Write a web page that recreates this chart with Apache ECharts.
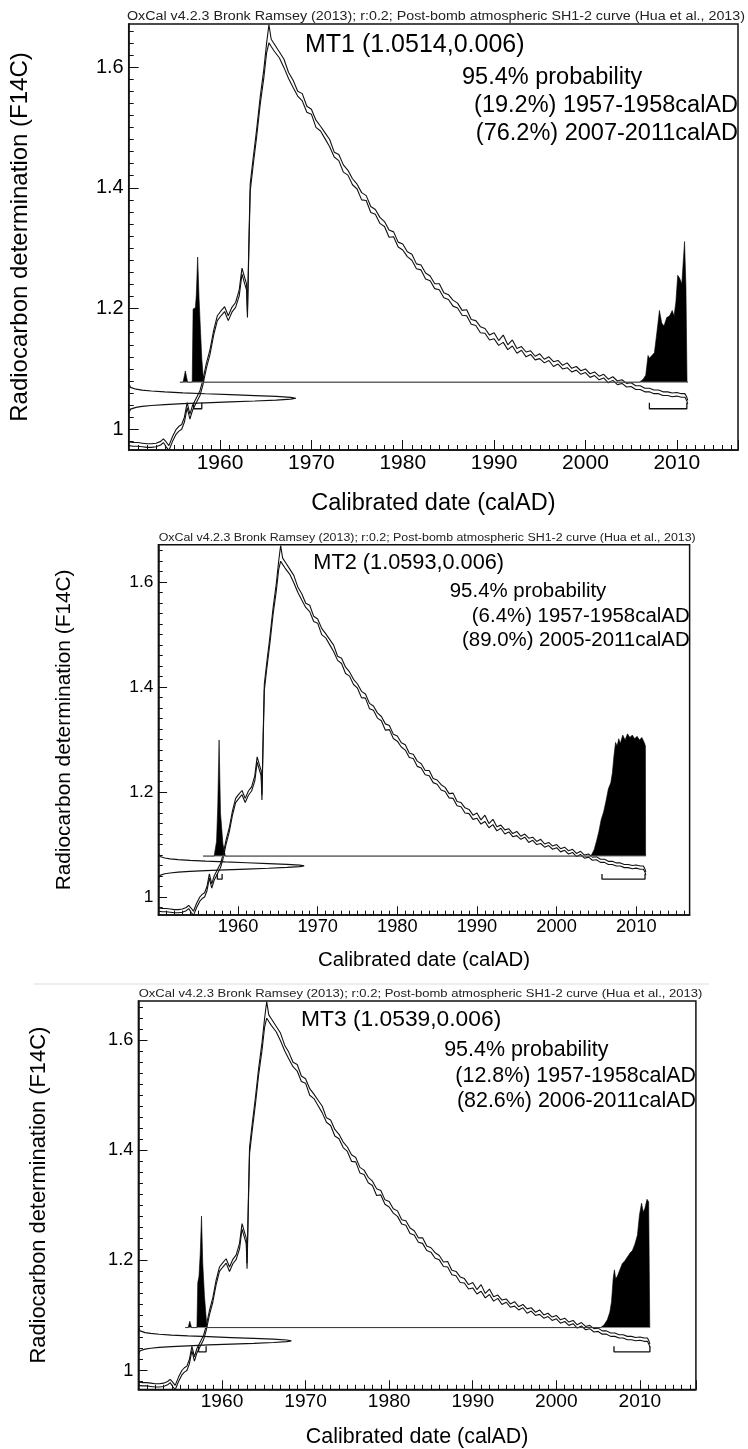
<!DOCTYPE html>
<html><head><meta charset="utf-8">
<script src="https://cdn.jsdelivr.net/npm/echarts@6/dist/echarts.min.js"></script>
<style>html,body{margin:0;padding:0;background:#fff}#c{width:748px;height:1449px}</style>
</head><body><div id="c"></div>
<script>
// ---------------- DATA ----------------
const headerText = 'OxCal v4.2.3 Bronk Ramsey (2013); r:0.2; Post-bomb atmospheric SH1-2 curve (Hua et al., 2013)';
const xTitle = 'Calibrated date (calAD)';
const yTitle = 'Radiocarbon determination (F14C)';
const xTicks = [1960, 1970, 1980, 1990, 2000, 2010];
const yTicks = [1, 1.2, 1.4, 1.6];
const yMinorTicks = [0.98,1.00,1.02,1.04,1.06,1.08,1.10,1.12,1.14,1.16,1.18,1.20,1.22,1.24,1.26,1.28,1.30,1.32,1.34,1.36,1.38,1.40,1.42,1.44,1.46,1.48,1.50,1.52,1.54,1.56,1.58,1.60,1.62,1.64,1.66];

// calibration curve SH1-2 (mean and 1 sigma, F14C)
const calYear = [1950.0,1950.5,1951.0,1951.5,1952.0,1952.5,1953.0,1953.5,1953.8,1954.1,1954.4,1954.8,1955.2,1955.5,1955.8,1956.1,1956.4,1956.7,1957.0,1957.4,1957.8,1958.1,1958.5,1958.9,1959.3,1959.7,1960.1,1960.5,1960.9,1961.3,1961.7,1962.1,1962.4,1962.7,1962.9,1963.0,1963.15,1963.3,1963.6,1964.0,1964.4,1964.8,1965.1,1965.35,1965.6,1965.9,
1966.0,1966.5,1967.0,1967.5,1968.0,1968.5,1969.0,1969.5,1970.0,1970.5,1971.0,1971.5,1972.0,1972.5,1973.0,1973.5,1974.0,1974.5,1975.0,1975.5,1976.0,1976.5,1977.0,1977.5,1978.0,1978.5,1979.0,1979.5,1980.0,1980.5,1981.0,1981.5,1982.0,1982.5,1983.0,1983.5,1984.0,1984.5,1985.0,1985.5,1986.0,1986.5,1987.0,1987.5,1988.0,1988.5,1989.0,1989.5,1990.0,1990.5,1991.0,1991.5,1992.0,1992.5,1993.0,1993.5,1994.0,1994.5,1995.0,1995.5,1996.0,1996.5,1997.0,1997.5,1998.0,1998.5,1999.0,1999.5,2000.0,2000.5,2001.0,2001.5,2002.0,2002.5,2003.0,2003.5,2004.0,2004.5,2005.0,2005.5,2006.0,2006.5,2007.0,2007.5,2008.0,2008.5,2009.0,2009.5,2010.0,2010.5,2010.9,2011.1,2011.2];
const calMean = [0.976,0.975,0.975,0.974,0.973,0.973,0.974,0.977,0.981,0.975,0.969,0.984,0.996,1.001,1.004,1.016,1.040,1.021,1.036,1.048,1.060,1.076,1.105,1.128,1.160,1.184,1.192,1.199,1.184,1.198,1.206,1.226,1.262,1.246,1.236,1.190,1.300,1.400,1.440,1.490,1.545,1.590,1.632,1.655,1.640,1.633,
1.634,1.620,1.606,1.586,1.572,1.556,1.550,1.530,1.526,1.506,1.498,1.486,1.474,1.455,1.450,1.432,1.425,1.410,1.402,1.386,1.383,1.364,1.360,1.346,1.340,1.324,1.323,1.306,1.302,1.290,1.285,1.270,1.268,1.254,1.250,1.237,1.236,1.222,1.219,1.209,1.205,1.193,1.193,1.178,1.176,1.165,1.163,1.152,1.155,1.143,1.150,1.136,1.143,1.130,1.134,1.124,1.127,1.118,1.121,1.113,1.117,1.108,1.111,1.103,1.106,1.098,1.101,1.094,1.097,1.089,1.092,1.085,1.088,1.080,1.084,1.077,1.079,1.073,1.074,1.069,1.069,1.065,1.065,1.062,1.062,1.059,1.059,1.057,1.058,1.056,1.056,1.050,1.045];
const calSigma = [0.003,0.003,0.003,0.003,0.003,0.003,0.003,0.003,0.003,0.004,0.004,0.004,0.004,0.004,0.004,0.004,0.004,0.004,0.004,0.004,0.004,0.004,0.004,0.004,0.004,0.004,0.004,0.004,0.004,0.004,0.004,0.005,0.005,0.005,0.005,0.005,0.006,0.006,0.006,0.006,0.006,0.007,0.008,0.015,0.006,0.006,
0.006,0.005,0.007,0.005,0.006,0.004,0.006,0.005,0.004,0.006,0.004,0.005,0.006,0.004,0.005,0.006,0.004,0.005,0.004,0.006,0.004,0.005,0.004,0.005,0.004,0.006,0.004,0.004,0.005,0.004,0.005,0.004,0.004,0.005,0.004,0.004,0.005,0.004,0.004,0.005,0.004,0.004,0.005,0.004,0.004,0.005,0.004,0.004,0.005,0.004,0.006,0.004,0.005,0.004,0.003,0.004,0.003,0.003,0.004,0.003,0.003,0.004,0.003,0.003,0.004,0.003,0.003,0.003,0.003,0.003,0.003,0.003,0.003,0.003,0.003,0.003,0.003,0.003,0.003,0.003,0.003,0.003,0.003,0.003,0.003,0.003,0.003,0.003,0.003,0.003,0.003,0.003,0.003];

// samples
const sampleName = ['MT1', 'MT2', 'MT3'];
const sampleValue = ['1.0514', '1.0593', '1.0539'];
const sampleError = ['0.006', '0.006', '0.006'];
const probTotal = '95.4% probability';
const rangeText_MT1 = ['(19.2%) 1957-1958calAD', '(76.2%) 2007-2011calAD'];
const rangeText_MT2 = ['(6.4%) 1957-1958calAD', '(89.0%) 2005-2011calAD'];
const rangeText_MT3 = ['(12.8%) 1957-1958calAD', '(82.6%) 2006-2011calAD'];
const rangeBar_MT1 = [[1957.1, 1958.0], [2007.0, 2011.1]];
const rangeBar_MT2 = [[1957.4, 1958.0], [2005.7, 2011.1]];
const rangeBar_MT3 = [[1957.2, 1958.1], [2006.9, 2011.2]];

// measured value drawn on the y axis (year position, F14C)
const measYear = [1950.0,1950.04,1950.2,1950.8,1951.46,1952.48,1953.96,1955.94,1958.38,1961.1,1963.81,1966.15,1967.74,1968.3,1967.74,1966.15,1963.81,1961.1,1958.38,1955.94,1953.96,1952.48,1951.46,1950.8,1950.2,1950.04,1950.0];
const measF_MT1 = [1.0274,1.0304,1.0334,1.0364,1.0379,1.0394,1.0409,1.0424,1.0439,1.0454,1.0469,1.0484,1.0499,1.0514,1.0529,1.0544,1.0559,1.0574,1.0589,1.0604,1.0619,1.0634,1.0649,1.0664,1.0694,1.0724,1.0754];
const measF_MT2 = [1.0353,1.0383,1.0413,1.0443,1.0458,1.0473,1.0488,1.0503,1.0518,1.0533,1.0548,1.0563,1.0578,1.0593,1.0608,1.0623,1.0638,1.0653,1.0668,1.0683,1.0698,1.0713,1.0728,1.0743,1.0773,1.0803,1.0833];
const measF_MT3 = [1.0299,1.0329,1.0359,1.0389,1.0404,1.0419,1.0434,1.0449,1.0464,1.0479,1.0494,1.0509,1.0524,1.0539,1.0554,1.0569,1.0584,1.0599,1.0614,1.0629,1.0644,1.0659,1.0674,1.0689,1.0719,1.0749,1.0779];

// calibrated (posterior) probability, relative density [year, density]
const post_MT1 = [[1955.6,0],[1955.95,0],[1956.2,0.08],[1956.45,0],[1956.95,0],[1957.05,0.52],[1957.3,0.53],[1957.4,0.62],[1957.55,0.89],[1957.7,0.6],[1957.85,0.38],[1958.0,0.17],[1958.2,0],[2005.9,0],[2006.3,0.02],[2006.6,0.05],[2006.85,0.19],[2007.0,0.17],[2007.2,0.18],[2007.55,0.21],[2007.85,0.37],[2008.1,0.51],[2008.35,0.42],[2008.6,0.40],[2008.9,0.46],[2009.2,0.47],[2009.5,0.51],[2009.7,0.47],[2009.9,0.57],[2010.1,0.76],[2010.3,0.74],[2010.55,0.70],[2010.85,1.0],[2011.0,0.68],[2011.1,0.68],[2011.12,0],[2011.2,0]];
const post_MT2 = [[1955.6,0],[1957.0,0],[1957.3,0.12],[1957.45,0.4],[1957.62,0.95],[1957.8,0.35],[1958.1,0.1],[1958.4,0],[2004.3,0],[2004.7,0.05],[2005.0,0.12],[2005.3,0.2],[2005.6,0.3],[2005.9,0.36],[2006.2,0.45],[2006.5,0.55],[2006.8,0.6],[2007.0,0.68],[2007.2,0.82],[2007.4,0.93],[2007.6,0.9],[2007.8,0.96],[2008.0,0.92],[2008.3,0.99],[2008.6,0.95],[2008.9,1.0],[2009.2,0.97],[2009.5,0.99],[2009.8,0.96],[2010.1,0.98],[2010.4,0.95],[2010.7,0.97],[2011.0,0.93],[2011.15,0.9],[2011.17,0],[2011.2,0]];
const post_MT3 = [[1955.6,0],[1955.95,0],[1956.15,0.05],[1956.35,0],[1957.0,0],[1957.1,0.35],[1957.25,0.4],[1957.4,0.58],[1957.55,0.87],[1957.7,0.5],[1957.9,0.25],[1958.2,0],[2005.3,0],[2005.7,0.02],[2006.1,0.06],[2006.4,0.12],[2006.6,0.2],[2006.8,0.38],[2006.95,0.45],[2007.1,0.38],[2007.3,0.4],[2007.6,0.45],[2007.9,0.5],[2008.2,0.52],[2008.5,0.55],[2008.8,0.58],[2009.1,0.6],[2009.4,0.65],[2009.7,0.72],[2009.95,0.88],[2010.2,0.97],[2010.4,0.9],[2010.6,0.93],[2010.85,1.0],[2011.05,0.98],[2011.18,0],[2011.2,0]];

// ---------------- LAYOUT / STYLE ----------------
const X_MIN = 1950, X_MAX = 2016.7, Y_MIN = 0.9657, Y_MAX = 1.6713;
const POST_BASE = 1.078, POST_SCALE = 0.233, POST_START = 1955.6, POST_END = 2011.2;
const BAR_BOTTOM = 1.034, BAR_TOP = 1.044;
const FONT = '"Liberation Sans", Arial, Helvetica, sans-serif';

// layout of the first figure (pixels); the other two are scaled copies
const BASE = {left:126.7, bottom:450, width:611.3, height:426,
  header:{x0:127, x1:745, y:16.5, size:12}, title:{x:305, y:45, size:25},
  prob:{x:462, y:78, size:23.5}, rangeY:[106,134], rangeRight:738,
  yTitleX:18, yTitleSize:24, xTitleY:503, xTitleSize:23.5, tickX:21, tickY:20, majorLen:10, minorLen:5};
const panelPlace = [
  {left:126.7, bottom:450, s:1},
  {left:158.4, bottom:915, s:0.869},
  {left:138.4, bottom:1389.5, s:0.912}
];
const panelData = [
  {post:post_MT1, meas:measF_MT1, bars:rangeBar_MT1, ranges:rangeText_MT1},
  {post:post_MT2, meas:measF_MT2, bars:rangeBar_MT2, ranges:rangeText_MT2},
  {post:post_MT3, meas:measF_MT3, bars:rangeBar_MT3, ranges:rangeText_MT3}
];

const mctx = document.createElement('canvas').getContext('2d');
function textW(t, font) { mctx.font = font; return mctx.measureText(t).width; }

const grid = [], xAxis = [], yAxis = [], series = [], graphic = [];
panelPlace.forEach((pl, i) => {
  const s = pl.s, d = panelData[i];
  const X = x => pl.left + (x - BASE.left) * s;
  const Y = y => pl.bottom + (y - BASE.bottom) * s;
  const W = BASE.width * s, H = BASE.height * s, L = pl.left, T = pl.bottom - H;
  grid.push({left:L, top:T, width:W, height:H, show:true,
    borderColor:'#111', borderWidth:1.5, backgroundColor:'rgba(0,0,0,0)'});
  const xTitleSize = BASE.xTitleSize * s, yTitleSize = BASE.yTitleSize * s;
  xAxis.push({gridIndex:i, type:'value', min:X_MIN, max:X_MAX, interval:10,
    axisLine:{show:true, onZero:false, lineStyle:{color:'#111', width:1.5}},
    axisTick:{show:true, inside:true, length:BASE.majorLen*s, lineStyle:{color:'#111', width:1}},
    minorTick:{show:true, splitNumber:10, length:BASE.minorLen*s, lineStyle:{color:'#111', width:1}},
    axisLabel:{show:true, color:'#000', fontFamily:FONT, fontSize:BASE.tickX*s, margin:3,
      formatter: v => (xTicks.indexOf(Math.round(v*10)/10) >= 0 ? String(v) : '')},
    splitLine:{show:false}, minorSplitLine:{show:false},
    name:xTitle, nameLocation:'middle', nameGap:(BASE.xTitleY - BASE.bottom)*s - xTitleSize/2,
    nameTextStyle:{color:'#000', fontFamily:FONT, fontSize:xTitleSize}});
  const yi = yAxis.length;
  yAxis.push({gridIndex:i, type:'value', min:Y_MIN, max:Y_MAX, position:'left',
    axisLine:{show:true, onZero:false, lineStyle:{color:'#111', width:1.5}},
    axisTick:{show:true, inside:true, length:BASE.majorLen*s, customValues:yTicks, lineStyle:{color:'#111', width:1}},
    axisLabel:{show:true, customValues:yTicks, color:'#000', fontFamily:FONT, fontSize:BASE.tickY*s, margin:5,
      formatter: v => String(Math.round(v*10)/10)},
    splitLine:{show:false},
    name:yTitle, nameLocation:'middle', nameGap:(BASE.left - BASE.yTitleX)*s - yTitleSize/2, nameRotate:90,
    nameTextStyle:{color:'#000', fontFamily:FONT, fontSize:yTitleSize}});
  yAxis.push({gridIndex:i, type:'value', min:Y_MIN, max:Y_MAX, position:'left', offset:0,
    axisLine:{show:false},
    axisTick:{show:true, inside:true, length:BASE.minorLen*s, customValues:yMinorTicks, lineStyle:{color:'#111', width:1}},
    axisLabel:{show:false}, splitLine:{show:false}});

  const base = {xAxisIndex:i, yAxisIndex:yi, type:'line', showSymbol:false, symbol:'none',
    animation:false, silent:true, clip:true};
  series.push(Object.assign({}, base, {name:'cal+', data: calYear.map((y,k)=>[y, calMean[k]+calSigma[k]]),
    lineStyle:{color:'#111', width:1.1}}));
  series.push(Object.assign({}, base, {name:'cal-', data: calYear.map((y,k)=>[y, calMean[k]-calSigma[k]]),
    lineStyle:{color:'#111', width:1.1}}));
  series.push(Object.assign({}, base, {name:'base', data:[[POST_START, POST_BASE],[POST_END, POST_BASE]],
    lineStyle:{color:'#888', width:1}}));
  series.push(Object.assign({}, base, {name:'post', data: d.post.map(q => [q[0], POST_BASE + q[1]*POST_SCALE]),
    lineStyle:{color:'#000', width:0.6}, areaStyle:{color:'#000', opacity:1, origin:POST_BASE}}));
  series.push(Object.assign({}, base, {name:'meas', data: measYear.map((y,k)=>[y, d.meas[k]]),
    lineStyle:{color:'#111', width:1.2}}));
  d.bars.forEach(b => {
    series.push(Object.assign({}, base, {name:'bar', data:[[b[0],BAR_TOP],[b[0],BAR_BOTTOM],[b[1],BAR_BOTTOM],[b[1],BAR_TOP]],
      lineStyle:{color:'#111', width:1.3}}));
  });

  // texts
  const hf = `${BASE.header.size*s}px ${FONT}`;
  const hx0 = X(BASE.header.x0), hx1 = X(BASE.header.x1);
  graphic.push({type:'text', x:hx0, y:Y(BASE.header.y), scaleX:(hx1-hx0)/textW(headerText, hf), silent:true,
    style:{text:headerText, font:hf, fill:'#222', textAlign:'left', textVerticalAlign:'middle', verticalAlign:'middle'}});
  const tf = `${BASE.title.size*s}px ${FONT}`;
  graphic.push({type:'text', x:X(BASE.title.x), y:Y(BASE.title.y), silent:true,
    style:{text:`${sampleName[i]} (${sampleValue[i]},${sampleError[i]})`, font:tf, fill:'#000', textAlign:'left', textVerticalAlign:'middle', verticalAlign:'middle'}});
  const pf = `${BASE.prob.size*s}px ${FONT}`;
  graphic.push({type:'text', x:X(BASE.prob.x), y:Y(BASE.prob.y), silent:true,
    style:{text:probTotal, font:pf, fill:'#000', textAlign:'left', textVerticalAlign:'middle', verticalAlign:'middle'}});
  d.ranges.forEach((t, k) => {
    graphic.push({type:'text', x:X(BASE.rangeRight), y:Y(BASE.rangeY[k]), silent:true,
      style:{text:t, font:pf, fill:'#000', textAlign:'right', textVerticalAlign:'middle', verticalAlign:'middle'}});
  });
});
graphic.push({type:'line', silent:true, shape:{x1:34, y1:984, x2:709, y2:984}, style:{stroke:'#ddd', lineWidth:1}});

const chart = echarts.init(document.getElementById('c'), null, {renderer:'canvas', width:748, height:1449});
chart.setOption({animation:false, backgroundColor:'#fff', grid, xAxis, yAxis, series, graphic});
</script></body></html>
